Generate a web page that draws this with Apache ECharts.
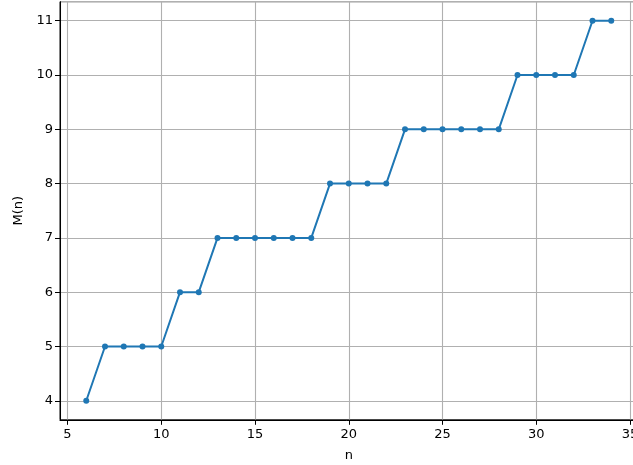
<!DOCTYPE html>
<html>
<head>
<meta charset="utf-8">
<script src="https://cdn.jsdelivr.net/npm/echarts@6/dist/echarts.min.js"></script>
<style>
html,body{margin:0;padding:0;background:#fff;}
#chart{width:633px;height:465px;}
</style>
</head>
<body>
<div id="chart"></div>
<script>
// n values and the corresponding M(n)
const nValues = [6,7,8,9,10,11,12,13,14,15,16,17,18,19,20,21,22,23,24,25,26,27,28,29,30,31,32,33,34];
const mValues = [4,5,5,5,5,6,6,7,7,7,7,7,7,8,8,8,8,9,9,9,9,9,9,10,10,10,10,11,11];

const points = nValues.map((n, i) => [n, mValues[i]]);
const font = 'DejaVu Sans';

const chart = echarts.init(document.getElementById('chart'), null, {renderer: 'canvas'});
chart.setOption({
  animation: false,
  backgroundColor: '#fff',
  grid: {left: 60, right: -4.5, top: 1.7, bottom: 45.2, containLabel: false, outerBoundsMode: 'none',
         show: true, borderColor: '#000', borderWidth: 1},
  xAxis: {
    type: 'value',
    min: 4.6, max: 35.4,
    splitNumber: 6,
    name: 'n', nameLocation: 'middle', nameGap: 29,
    nameTextStyle: {fontFamily: font, fontSize: 13, color: '#000'},
    axisLine: {show: true, onZero: false, lineStyle: {color: '#000', width: 1}},
    axisTick: {show: true, length: 5, lineStyle: {color: '#000'}},
    axisLabel: {fontFamily: font, fontSize: 13, color: '#000', margin: 8, showMinLabel: false, showMaxLabel: false},
    splitLine: {show: true, lineStyle: {color: '#b0b0b0', width: 1.1}}
  },
  yAxis: {
    type: 'value',
    min: 3.65, max: 11.35,
    splitNumber: 8,
    name: 'M(n)', nameLocation: 'middle', nameGap: 33, nameRotate: 90,
    nameTextStyle: {fontFamily: font, fontSize: 13, color: '#000'},
    axisLine: {show: true, onZero: false, lineStyle: {color: '#000', width: 1}},
    axisTick: {show: true, length: 5, lineStyle: {color: '#000'}},
    axisLabel: {fontFamily: font, fontSize: 13, color: '#000', margin: 7, showMinLabel: false, showMaxLabel: false},
    splitLine: {show: true, lineStyle: {color: '#b0b0b0', width: 1.1}}
  },
  series: [{
    type: 'line',
    data: points,
    symbol: 'circle',
    symbolSize: 6,
    showAllSymbol: true,
    itemStyle: {color: '#1f77b4'},
    lineStyle: {color: '#1f77b4', width: 2}
  }]
});
</script>
</body>
</html>
